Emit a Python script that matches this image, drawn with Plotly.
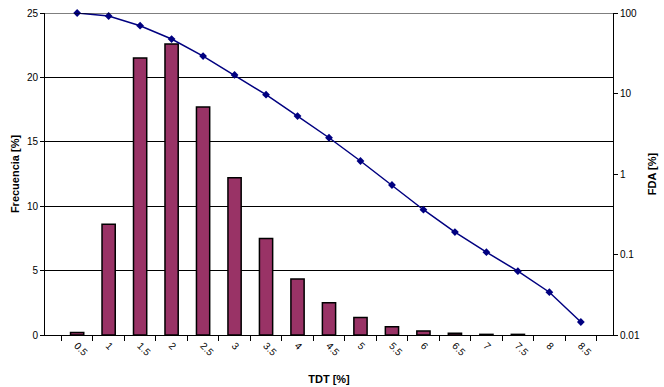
import plotly.graph_objects as go

categories = ["0.5", "1", "1.5", "2", "2.5", "3", "3.5", "4", "4.5", "5",
              "5.5", "6", "6.5", "7", "7.5", "8", "8.5"]
frecuencia = [0.2, 8.6, 21.5, 22.6, 17.7, 12.2, 7.5, 4.35, 2.5, 1.35,
              0.65, 0.32, 0.13, 0.05, 0.05, None, None]
fda = [100, 91.8, 69.5, 47.5, 29.2, 17.0, 9.66, 5.25, 2.82, 1.45,
       0.73, 0.36, 0.19, 0.107, 0.062, 0.034, 0.0145]
left_ticks = [0, 5, 10, 15, 20, 25]
right_ticks = [0.01, 0.1, 1, 10, 100]
right_labels = ["0.01", "0.1", "1", "10", "100"]

font = "Liberation Sans, Arial, sans-serif"

fig = go.Figure()
fig.add_trace(go.Bar(
    x=categories, y=frecuencia, marker=dict(color="#993366", line=dict(color="black", width=1.5)),
    yaxis="y", showlegend=False))
fig.add_trace(go.Scatter(
    x=categories, y=fda, yaxis="y2", mode="lines+markers", cliponaxis=False,
    line=dict(color="#000080", width=1.5),
    marker=dict(symbol="diamond", size=6, color="#000080"), showlegend=False))

fig.add_shape(type="line", xref="paper", x0=0, x1=1, yref="y", y0=25, y1=25,
              line=dict(color="black", width=1))

fig.update_layout(
    width=664, height=387,
    margin=dict(l=45, r=51, t=13, b=52),
    paper_bgcolor="white", plot_bgcolor="white",
    bargap=0.58,
    font=dict(family=font, size=10, color="black"),
    xaxis=dict(
        type="category", tickangle=45, ticks="outside", tickson="boundaries",
        ticklen=5, tickcolor="black", showline=True, linecolor="black", linewidth=1,
        showgrid=False, automargin=False,
        title=dict(text="<b>TDT [%]</b>", font=dict(size=11), standoff=18),
        tickfont=dict(size=10),
    ),
    yaxis=dict(
        range=[0, 25], tickvals=left_ticks, ticks="outside", ticklen=4, tickcolor="black",
        showline=True, linecolor="black", linewidth=1, automargin=False,
        showgrid=True, gridcolor="black", gridwidth=1, zeroline=False,
        title=dict(text="<b>Frecuencia [%]</b>", font=dict(size=11), standoff=5),
    ),
    yaxis2=dict(
        type="log", range=[-2, 2], overlaying="y", side="right",
        tickvals=right_ticks, ticktext=right_labels, ticks="outside", ticklen=4,
        tickcolor="black", showline=True, linecolor="black", linewidth=1,
        showgrid=False, zeroline=False, automargin=False,
        title=dict(text="<b>FDA [%]</b>", font=dict(size=11), standoff=9),
    ),
)

fig.write_html("out.html")
